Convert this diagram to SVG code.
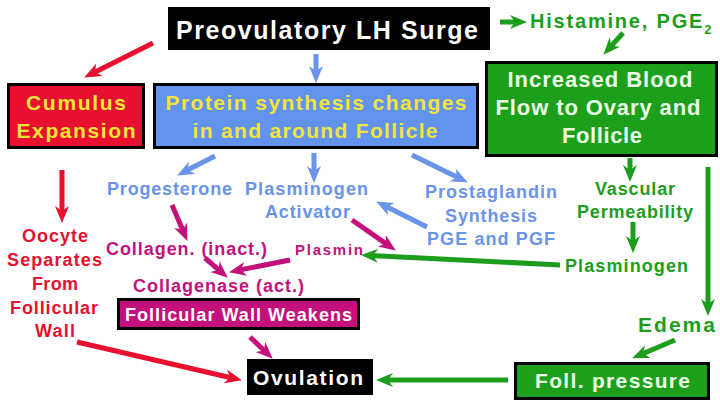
<svg xmlns="http://www.w3.org/2000/svg" width="720" height="405" viewBox="0 0 720 405">
<style>
text{font-family:"Liberation Sans",Arial,sans-serif;font-weight:bold;text-anchor:middle}
.w{fill:#ffffff}.y{fill:#f2e43a}.gw{fill:#eaffe6}
.r{fill:#e8102e}.b{fill:#6a93ea}.m{fill:#c4107c}.g{fill:#1c9e1c}
.ar{fill:none;stroke-width:5}
.sr{stroke:#e8102e}.sb{stroke:#6a93ea}.sm{stroke:#c4107c}.sg{stroke:#1c9e1c}
</style>
<defs>
<marker id="hr" markerUnits="userSpaceOnUse" markerWidth="18" markerHeight="16" refX="8" refY="7" orient="auto"><path d="M0,0 L17,7 L0,14 L5,7 z" fill="#e8102e"/></marker>
<marker id="hb" markerUnits="userSpaceOnUse" markerWidth="18" markerHeight="16" refX="8" refY="7" orient="auto"><path d="M0,0 L17,7 L0,14 L5,7 z" fill="#6a93ea"/></marker>
<marker id="hm" markerUnits="userSpaceOnUse" markerWidth="18" markerHeight="16" refX="8" refY="7" orient="auto"><path d="M0,0 L17,7 L0,14 L5,7 z" fill="#c4107c"/></marker>
<marker id="hg" markerUnits="userSpaceOnUse" markerWidth="18" markerHeight="16" refX="8" refY="7" orient="auto"><path d="M0,0 L17,7 L0,14 L5,7 z" fill="#1c9e1c"/></marker>
</defs>
<rect width="720" height="405" fill="#ffffff"/>

<g id="connectors">
<line class="ar sr" x1="153" y1="43" x2="92.2" y2="73.4" marker-end="url(#hr)"/>
<line class="ar sr" x1="62" y1="170" x2="62" y2="214" marker-end="url(#hr)"/>
<line class="ar sr" x1="77" y1="342" x2="233.2" y2="378.2" marker-end="url(#hr)"/>
<line class="ar sb" x1="316" y1="54" x2="316" y2="74" marker-end="url(#hb)"/>
<line class="ar sb" x1="215" y1="156" x2="185.1" y2="171.3" marker-end="url(#hb)"/>
<line class="ar sb" x1="314" y1="153" x2="314" y2="174" marker-end="url(#hb)"/>
<line class="ar sb" x1="412" y1="155" x2="459.8" y2="178.5" marker-end="url(#hb)"/>
<line class="ar sb" x1="427" y1="227" x2="384.2" y2="205.6" marker-end="url(#hb)"/>
<line class="ar sm" x1="172" y1="205" x2="183.8" y2="232.6" marker-end="url(#hm)"/>
<line class="ar sm" x1="352" y1="220" x2="388.4" y2="245.4" marker-end="url(#hm)"/>
<line class="ar sm" x1="290" y1="260" x2="237.8" y2="270.4" marker-end="url(#hm)"/>
<line class="ar sm" x1="205" y1="258" x2="221" y2="271.8" marker-end="url(#hm)"/>
<line class="ar sm" x1="250" y1="337" x2="266.2" y2="352.5" marker-end="url(#hm)"/>
<line class="ar sg" x1="500" y1="22" x2="518" y2="22" marker-end="url(#hg)"/>
<line class="ar sg" x1="623" y1="33" x2="609.4" y2="48.1" marker-end="url(#hg)"/>
<line class="ar sg" x1="630" y1="158" x2="630" y2="173" marker-end="url(#hg)"/>
<line class="ar sg" x1="633" y1="222" x2="633" y2="244" marker-end="url(#hg)"/>
<line class="ar sg" x1="708" y1="167" x2="708" y2="307" stroke-width="6" marker-end="url(#hg)"/>
<line class="ar sg" x1="560" y1="265" x2="370" y2="255.4" marker-end="url(#hg)"/>
<line class="ar sg" x1="675" y1="340" x2="640.4" y2="354.8" marker-end="url(#hg)"/>
<line class="ar sg" x1="508" y1="380" x2="385" y2="380" marker-end="url(#hg)"/>
</g>

<g id="lh-surge">
<rect x="168" y="7" width="322" height="43" fill="#000000"/>
<text class="w" x="327" y="39" font-size="25" textLength="302" lengthAdjust="spacing">Preovulatory LH Surge</text>
</g>
<g id="histamine">
<text class="g" x="530" y="28" font-size="20" letter-spacing="1.8" style="text-anchor:start">Histamine, PGE<tspan font-size="13" dy="6" letter-spacing="0">2</tspan></text>
</g>
<g id="cumulus">
<rect x="8.5" y="84.5" width="135" height="63" fill="#e8102e" stroke="#000" stroke-width="3"/>
<text class="y" x="76" y="110" font-size="21" textLength="100" lengthAdjust="spacing">Cumulus</text>
<text class="y" x="76" y="138" font-size="21" textLength="119" lengthAdjust="spacing">Expansion</text>
</g>
<g id="protein">
<rect x="154.5" y="84.5" width="323" height="63" fill="#6293ee" stroke="#000" stroke-width="3"/>
<text class="y" x="316" y="110" font-size="21" textLength="301" lengthAdjust="spacing">Protein synthesis changes</text>
<text class="y" x="315" y="138" font-size="21" textLength="245" lengthAdjust="spacing">in and around Follicle</text>
</g>
<g id="blood-flow">
<rect x="486.5" y="62.5" width="230" height="93" fill="#1ca01c" stroke="#000" stroke-width="3"/>
<text class="gw" x="600" y="87" font-size="22" textLength="185" lengthAdjust="spacing">Increased Blood</text>
<text class="gw" x="598" y="115" font-size="22" textLength="205" lengthAdjust="spacing">Flow to Ovary and</text>
<text class="gw" x="602" y="143" font-size="22" textLength="80" lengthAdjust="spacing">Follicle</text>
</g>
<g id="progesterone">
<text class="b" x="169.5" y="195" font-size="18" textLength="125" lengthAdjust="spacing">Progesterone</text>
</g>
<g id="plasminogen-activator">
<text class="b" x="306.5" y="195" font-size="18" textLength="123" lengthAdjust="spacing">Plasminogen</text>
<text class="b" x="307.5" y="218" font-size="18" textLength="85" lengthAdjust="spacing">Activator</text>
</g>
<g id="prostaglandin">
<text class="b" x="491" y="198" font-size="18" textLength="132" lengthAdjust="spacing">Prostaglandin</text>
<text class="b" x="491" y="222" font-size="18" textLength="92" lengthAdjust="spacing">Synthesis</text>
<text class="b" x="491" y="245" font-size="18" textLength="128" lengthAdjust="spacing">PGE and PGF</text>
</g>
<g id="vascular">
<text class="g" x="635" y="195" font-size="18" textLength="80" lengthAdjust="spacing">Vascular</text>
<text class="g" x="635" y="218" font-size="18" textLength="116" lengthAdjust="spacing">Permeability</text>
</g>
<g id="plasminogen">
<text class="g" x="626.5" y="272" font-size="18" textLength="123" lengthAdjust="spacing">Plasminogen</text>
</g>
<g id="oocyte">
<text class="r" x="55" y="242" font-size="18" textLength="66" lengthAdjust="spacing">Oocyte</text>
<text class="r" x="54.5" y="266" font-size="18" textLength="95" lengthAdjust="spacing">Separates</text>
<text class="r" x="55" y="290" font-size="18" textLength="46" lengthAdjust="spacing">From</text>
<text class="r" x="54" y="314" font-size="18" textLength="88" lengthAdjust="spacing">Follicular</text>
<text class="r" x="55" y="337" font-size="18" textLength="40" lengthAdjust="spacing">Wall</text>
</g>
<g id="collagen">
<text class="m" x="186.5" y="255" font-size="18" textLength="161" lengthAdjust="spacing">Collagen. (inact.)</text>
</g>
<g id="plasmin">
<text class="m" x="329" y="255" font-size="15" textLength="68" lengthAdjust="spacing">Plasmin</text>
</g>
<g id="collagenase">
<text class="m" x="218.5" y="292" font-size="18" textLength="171" lengthAdjust="spacing">Collagenase (act.)</text>
</g>
<g id="wall-weakens">
<rect x="118.5" y="299.5" width="240" height="29" fill="#c4107c" stroke="#000" stroke-width="3"/>
<text class="w" x="238.5" y="321" font-size="18" textLength="227" lengthAdjust="spacing">Follicular Wall Weakens</text>
</g>
<g id="ovulation">
<rect x="247" y="359" width="126" height="36" fill="#000000"/>
<text class="w" x="308" y="385" font-size="21" textLength="110" lengthAdjust="spacing">Ovulation</text>
</g>
<g id="edema">
<text class="g" x="676.5" y="332" font-size="21" textLength="77" lengthAdjust="spacing">Edema</text>
</g>
<g id="foll-pressure">
<rect x="515.5" y="363.5" width="193" height="35" fill="#1ca01c" stroke="#000" stroke-width="3"/>
<text class="gw" x="612.5" y="388" font-size="21" textLength="155" lengthAdjust="spacing">Foll. pressure</text>
</g>
</svg>
